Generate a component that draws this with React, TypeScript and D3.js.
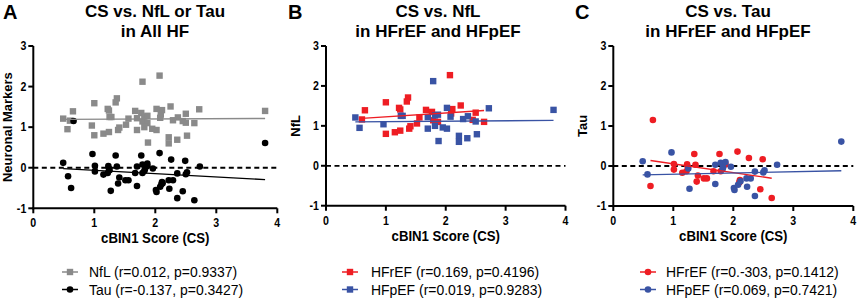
import React from 'react';
import * as d3 from 'd3';

type Pt = [number, number];

const xTicks = [0, 1, 2, 3, 4];
const yTicks = [-1, 0, 1, 2, 3];

const nflHFrEF: Pt[] = [
  [0.60, 1.16], [0.65, 1.39], [1.00, 1.59], [1.00, 0.80], [1.15, 0.84], [1.24, 0.88], [1.22, 1.45],
  [1.24, 1.41], [1.37, 1.71], [1.35, 1.61], [1.39, 0.93], [1.41, 0.99], [1.52, 1.06], [1.56, 1.21],
  [1.67, 1.40], [1.77, 1.35], [1.79, 1.14], [1.87, 1.10], [2.07, 2.27], [2.11, 1.42], [2.09, 1.31],
  [2.25, 1.51], [2.50, 1.33], [2.45, 1.15], [2.64, 1.10],
];
const nflHFpEF: Pt[] = [
  [0.49, 1.21], [0.56, 0.95], [0.96, 1.04], [1.25, 1.25], [1.28, 1.25], [1.70, 1.22], [1.70, 0.93],
  [1.79, 2.12], [1.82, 1.26], [1.87, 1.28], [1.82, 1.00], [1.88, 0.62], [1.95, 0.96], [2.02, 0.93],
  [2.02, 1.45], [2.08, 1.23], [2.22, 0.75], [2.22, 0.60], [2.29, 1.17], [2.37, 1.24], [2.36, 0.69],
  [2.50, 1.11], [2.52, 0.79], [2.72, 1.44], [3.80, 1.40],
];
const tauHFrEF: Pt[] = [
  [0.62, -0.50], [0.66, 1.15], [1.01, 0.05], [1.01, -0.09], [1.15, -0.17], [1.22, -0.13], [1.23, 0.04],
  [1.24, -0.02], [1.35, 0.30], [1.37, 0.03], [1.41, -0.24], [1.39, -0.39], [1.51, -0.31], [1.56, -0.31],
  [1.67, -0.13], [1.77, 0.30], [1.79, -0.13], [1.87, 0.04], [2.07, 0.36], [2.11, -0.35], [2.10, -0.41],
  [2.26, 0.20], [2.45, -0.58], [2.49, 0.17], [2.64, -0.80],
];
const tauHFpEF: Pt[] = [
  [0.49, 0.12], [0.57, -0.21], [0.97, 0.34], [1.27, -0.57], [1.70, 0.03], [1.70, -0.45], [1.79, 0.08],
  [1.87, 0.10], [1.83, -0.04], [1.96, -0.02], [2.01, -0.55], [2.02, -0.60], [2.08, -0.47], [2.22, -0.31],
  [2.29, -0.31], [2.23, -0.52], [2.36, -0.14], [2.36, -0.75], [2.50, -0.16], [2.52, -0.11], [2.73, 0.03],
  [3.80, 0.61], [1.25, -0.06], [1.82, -0.08], [2.12, -0.38],
];

const nflAll: Pt[] = [...nflHFrEF, ...nflHFpEF];
const tauAll: Pt[] = [...tauHFrEF, ...tauHFpEF];

const panelLetters = ['A', 'B', 'C'];
const titleLine1 = ['CS vs. NfL or Tau', 'CS vs. NfL', 'CS vs. Tau'];
const titleLine2 = ['in All HF', 'in HFrEF and HFpEF', 'in HFrEF and HFpEF'];
const yLabels = ['Neuronal Markers', 'NfL', 'Tau'];
const xLabel = 'cBIN1 Score (CS)';
const legendA = ['NfL (r=0.012, p=0.9337)', 'Tau (r=-0.137, p=0.3427)'];
const legendB = ['HFrEF (r=0.169, p=0.4196)', 'HFpEF (r=0.019, p=0.9283)'];
const legendC = ['HFrEF (r=0.-303, p=0.1412)', 'HFpEF (r=0.069, p=0.7421)'];

const RED = '#ee1d23';
const BLUE = '#3953a4';
const GRAY = '#8a8a8a';
const BLACK = '#000000';

type Series = { data: Pt[]; color: string; shape: 'square' | 'circle'; label: string };

function regress(data: Pt[]) {
  const mx = d3.mean(data, (d) => d[0])!;
  const my = d3.mean(data, (d) => d[1])!;
  let sxy = 0, sxx = 0;
  data.forEach(([x, y]) => { sxy += (x - mx) * (y - my); sxx += (x - mx) * (x - mx); });
  const b = sxy / sxx;
  const a = my - b * mx;
  const [x0, x1] = d3.extent(data, (d) => d[0]) as [number, number];
  return [[x0, a + b * x0], [x1, a + b * x1]] as Pt[];
}

const SANS = '"Liberation Sans", Arial, sans-serif';

function Marker({ shape, color, cx, cy }: { shape: string; color: string; cx: number; cy: number }) {
  if (shape === 'square') return <rect x={cx - 3.2} y={cy - 3.2} width={6.4} height={6.4} fill={color} />;
  return <circle cx={cx} cy={cy} r={3.3} fill={color} />;
}

function CondText(props: { x: number; y: number; sx: number; anchor?: string; size: number; weight?: string; children: React.ReactNode }) {
  const { x, y, sx, anchor, size, weight, children } = props;
  return (
    <text transform={`translate(${x},${y}) scale(${sx},1)`} textAnchor={anchor || 'start'} fontFamily={SANS}
      fontWeight={weight || 'normal'} fontSize={size}>{children}</text>
  );
}

function Panel(props: {
  idx: number; xr: [number, number]; yr: [number, number]; series: Series[];
  titleX: number; letterX: number; ylabX: number; legX: number; legTextDx: number;
}) {
  const { idx, xr, yr, series, titleX, letterX, ylabX, legX, legTextDx } = props;
  const x = d3.scaleLinear().domain([0, 4]).range(xr);
  const y = d3.scaleLinear().domain([-1, 3]).range(yr);
  const line = d3.line<Pt>().x((d) => x(d[0])).y((d) => y(d[1]));
  const yMid = (yr[0] + yr[1]) / 2;
  return (
    <g>
      <text x={letterX} y={19} fontFamily={SANS} fontWeight="bold" fontSize={20}>{panelLetters[idx]}</text>
      <text x={titleX} y={17} textAnchor="middle" fontFamily={SANS} fontWeight="bold" fontSize={17}>{titleLine1[idx]}</text>
      <text x={titleX} y={37} textAnchor="middle" fontFamily={SANS} fontWeight="bold" fontSize={17}>{titleLine2[idx]}</text>
      <text transform={`translate(${ylabX},${yMid}) rotate(-90)`} textAnchor="middle" fontFamily={SANS} fontWeight="bold" fontSize={13}>{yLabels[idx]}</text>
      <line x1={x(0)} x2={x(4)} y1={y(0)} y2={y(0)} stroke="#000" strokeWidth={1.8} strokeDasharray="5,3.5" />
      {series.map((s, i) => (
        <g key={'p' + i}>
          {s.data.map((d, j) => <Marker key={j} shape={s.shape} color={s.color} cx={x(d[0])} cy={y(d[1])} />)}
        </g>
      ))}
      {series.map((s, i) => (
        <path key={'r' + i} d={line(regress(s.data)) || ''} stroke={s.color} strokeWidth={1.4} fill="none" />
      ))}
      <line x1={x(0)} x2={x(0)} y1={y(3)} y2={y(-1) + 1} stroke="#000" strokeWidth={2} />
      <line x1={x(0) - 1} x2={x(4)} y1={y(-1)} y2={y(-1)} stroke="#000" strokeWidth={2} />
      {yTicks.map((t) => (
        <g key={'y' + t}>
          <line x1={x(0) - 5} x2={x(0)} y1={y(t)} y2={y(t)} stroke="#000" strokeWidth={2} />
          <CondText x={x(0) - 7} y={y(t) + 4.3} sx={0.85} anchor="end" size={12.5} weight="bold">{t}</CondText>
        </g>
      ))}
      {xTicks.map((t) => (
        <g key={'x' + t}>
          <line x1={x(t)} x2={x(t)} y1={y(-1)} y2={y(-1) + 5} stroke="#000" strokeWidth={2} />
          <CondText x={x(t)} y={y(-1) + 19} sx={0.85} anchor="middle" size={12.5} weight="bold">{t}</CondText>
        </g>
      ))}
      <CondText x={(xr[0] + xr[1]) / 2} y={y(-1) + 35} sx={0.88} anchor="middle" size={15} weight="bold">{xLabel}</CondText>
      {series.map((s, i) => (
        <g key={'l' + i} transform={`translate(${legX},${272 + i * 17.5})`}>
          <line x1={-8} x2={8} y1={0} y2={0} stroke={s.color} strokeWidth={1.5} />
          <Marker shape={s.shape} color={s.color} cx={0} cy={0} />
          <CondText x={legTextDx} y={5} sx={0.93} size={15}>{s.label}</CondText>
        </g>
      ))}
    </g>
  );
}

export default function App() {
  return (
    <svg width={858} height={307} style={{ position: 'absolute', left: 0, top: 0, background: '#fff' }}>
      <rect width={858} height={307} fill="#fff" />
      <Panel idx={0} xr={[33.3, 277.3]} yr={[208.3, 46]} titleX={155} letterX={3} ylabX={12} legX={70} legTextDx={19}
        series={[
          { data: nflAll, color: GRAY, shape: 'square', label: legendA[0] },
          { data: tauAll, color: BLACK, shape: 'circle', label: legendA[1] },
        ]} />
      <Panel idx={1} xr={[326, 565.5]} yr={[205.7, 46]} titleX={438} letterX={288} ylabX={300} legX={350} legTextDx={21}
        series={[
          { data: nflHFrEF, color: RED, shape: 'square', label: legendB[0] },
          { data: nflHFpEF, color: BLUE, shape: 'square', label: legendB[1] },
        ]} />
      <Panel idx={2} xr={[613.3, 853.3]} yr={[206, 46]} titleX={728} letterX={575} ylabX={587} legX={648} legTextDx={18}
        series={[
          { data: tauHFrEF, color: RED, shape: 'circle', label: legendC[0] },
          { data: tauHFpEF, color: BLUE, shape: 'circle', label: legendC[1] },
        ]} />
    </svg>
  );
}
